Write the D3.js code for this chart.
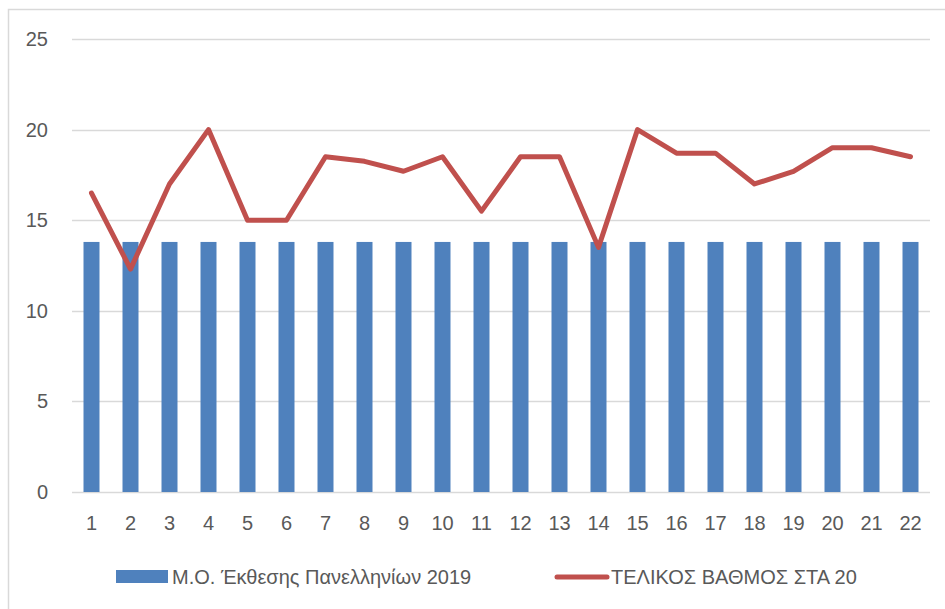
<!DOCTYPE html>
<html>
<head>
<meta charset="utf-8">
<script src="https://cdn.jsdelivr.net/npm/d3@7"></script>
<style>
  body { margin: 0; background: #fff; }
  text { font-family: "Liberation Sans", Arial, sans-serif; fill: #595959; }
</style>
</head>
<body>
<div id="chart"></div>
<script>
// chart data
const categories = d3.range(1, 23).map(String);
const avgValues = new Array(22).fill(13.8);
const finalGrades = [16.5, 12.3, 17, 20, 15, 15, 18.5, 18.25, 17.7, 18.5, 15.5,
  18.5, 18.5, 13.5, 20, 18.7, 18.7, 17, 17.7, 19, 19, 18.5];
const yTicks = [0, 5, 10, 15, 20, 25];
const seriesNames = ['Μ.Ο. Έκθεσης Πανελληνίων 2019', 'ΤΕΛΙΚΟΣ ΒΑΘΜΟΣ ΣΤΑ 20'];

const width = 945;
const height = 609;
const margin = {top: 39, right: 15, bottom: 117, left: 72};

const barColor = '#4f81bd';
const lineColor = '#c0504d';

const svg = d3.select('#chart')
  .append('svg')
  .attr('width', width)
  .attr('height', height);

// outer frame
svg.append('rect')
  .attr('x', 8.5)
  .attr('y', 9.5)
  .attr('width', width)
  .attr('height', height)
  .attr('fill', 'none')
  .attr('stroke', '#d9d9d9')
  .attr('stroke-width', 1.5);

const x = d3.scaleBand()
  .domain(categories)
  .range([margin.left, width - margin.right])
  .paddingInner(0.59)
  .paddingOuter(0.295);

const y = d3.scaleLinear()
  .domain([0, 25])
  .range([height - margin.bottom, margin.top]);

// gridlines
svg.append('g')
  .selectAll('line')
  .data(yTicks)
  .join('line')
  .attr('x1', margin.left)
  .attr('x2', width - margin.right)
  .attr('y1', (d)=> Math.round(y(d)) + 0.5)
  .attr('y2', (d)=> Math.round(y(d)) + 0.5)
  .attr('stroke', '#d9d9d9')
  .attr('stroke-width', 1.5);

// y tick labels
svg.append('g')
  .selectAll('text')
  .data(yTicks)
  .join('text')
  .attr('x', 48)
  .attr('y', (d)=> y(d))
  .attr('dy', '0.35em')
  .attr('text-anchor', 'end')
  .style('font-size', '20px')
  .text((d)=> d);

// bars
svg.append('g')
  .selectAll('rect')
  .data(avgValues)
  .join('rect')
  .attr('x', (d, i)=> x(categories[i]))
  .attr('y', (d)=> y(d))
  .attr('width', x.bandwidth())
  .attr('height', (d)=> y(0) - y(d))
  .attr('fill', barColor);

// x labels
const cx = (i)=> x(categories[i]) + x.bandwidth() / 2;
svg.append('g')
  .selectAll('text')
  .data(categories)
  .join('text')
  .attr('x', (d, i)=> cx(i))
  .attr('y', 523)
  .attr('dy', '0.35em')
  .attr('text-anchor', 'middle')
  .style('font-size', '20px')
  .text((d)=> d);

// line
const line = d3.line()
  .x((d, i)=> cx(i))
  .y((d)=> y(d));

svg.append('path')
  .datum(finalGrades)
  .attr('d', line)
  .attr('fill', 'none')
  .attr('stroke', lineColor)
  .attr('stroke-width', 5)
  .attr('stroke-linejoin', 'round')
  .attr('stroke-linecap', 'round');

// legend
const lg = svg.append('g');
lg.append('rect')
  .attr('x', 116)
  .attr('y', 570)
  .attr('width', 52)
  .attr('height', 13)
  .attr('fill', barColor);
lg.append('text')
  .attr('x', 172)
  .attr('y', 577)
  .attr('dy', '0.35em')
  .style('font-size', '20px')
  .text(seriesNames[0]);
lg.append('line')
  .attr('x1', 557)
  .attr('x2', 607)
  .attr('y1', 577)
  .attr('y2', 577)
  .attr('stroke', lineColor)
  .attr('stroke-width', 5)
  .attr('stroke-linecap', 'round');
lg.append('text')
  .attr('x', 611)
  .attr('y', 577)
  .attr('dy', '0.35em')
  .style('font-size', '20px')
  .text(seriesNames[1]);
</script>
</body>
</html>
